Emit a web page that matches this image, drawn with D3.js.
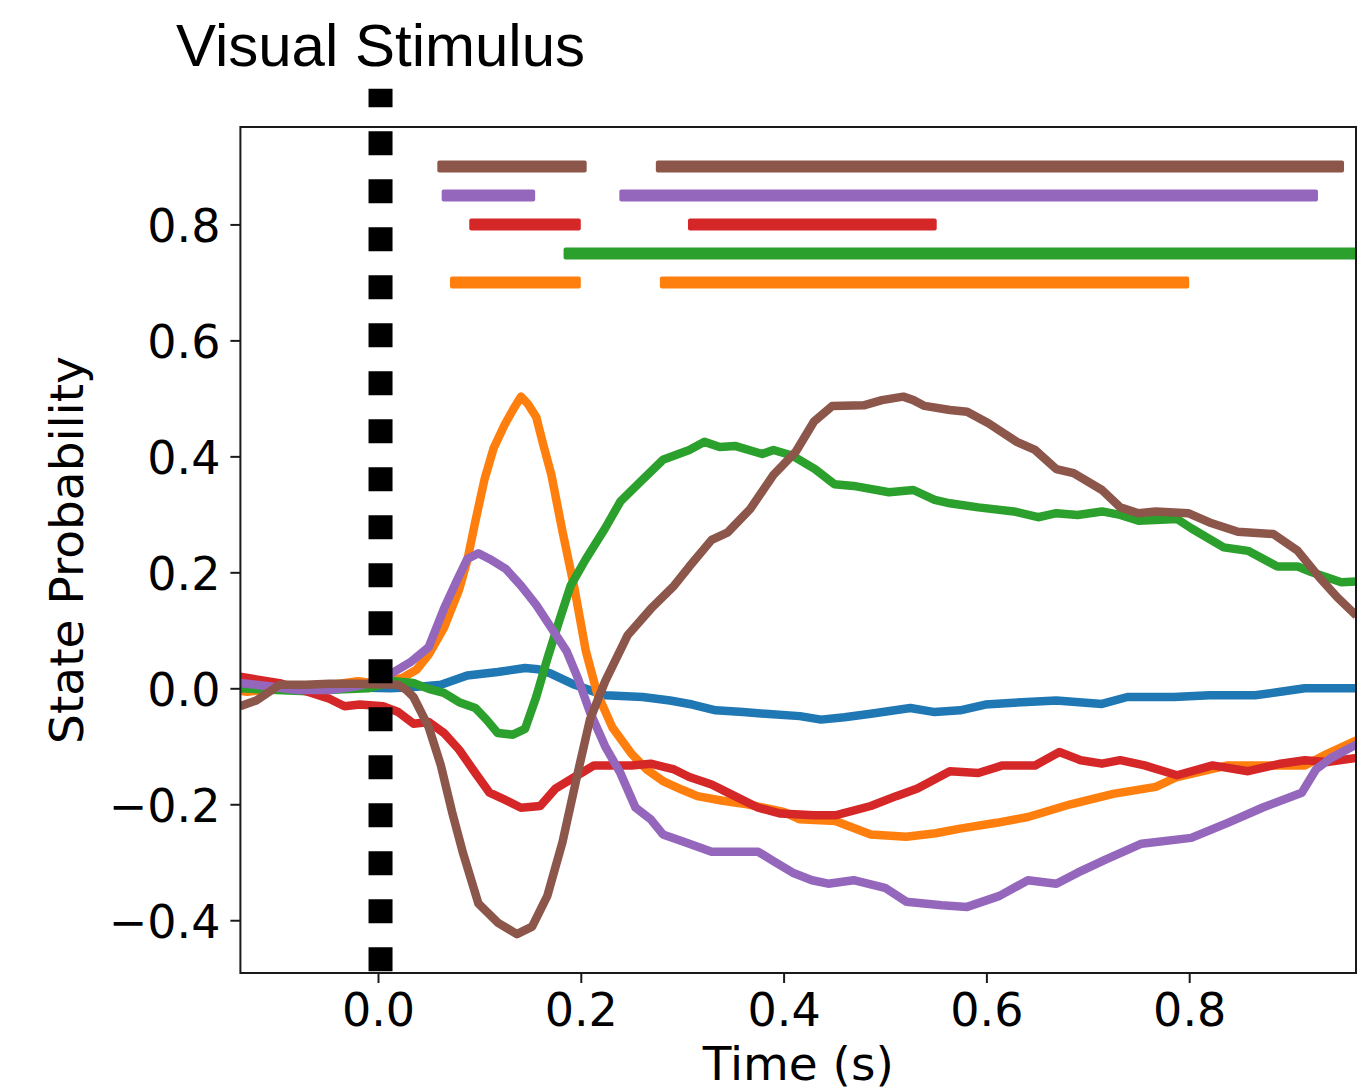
<!DOCTYPE html>
<html>
<head>
<meta charset="utf-8">
<script src="https://cdn.jsdelivr.net/npm/d3@7"></script>
<style>
  body { margin: 0; background: #fff; }
</style>
</head>
<body>
<script>
// state probability traces, [time (s), value]
var stateBlue = [[-0.136,0.002],[-0.10,0.001],[-0.07,0.003],[-0.033,0.003],[-0.01,0.001],[0.012,0.000],[0.035,0.002],[0.062,0.006],[0.088,0.022],[0.118,0.028],[0.145,0.035],[0.158,0.033],[0.171,0.025],[0.194,0.006],[0.21,-0.004],[0.224,-0.012],[0.261,-0.015],[0.288,-0.021],[0.31,-0.028],[0.333,-0.038],[0.36,-0.041],[0.382,-0.044],[0.416,-0.048],[0.437,-0.054],[0.46,-0.05],[0.486,-0.044],[0.525,-0.034],[0.549,-0.041],[0.574,-0.038],[0.599,-0.028],[0.635,-0.024],[0.669,-0.021],[0.714,-0.027],[0.739,-0.015],[0.785,-0.015],[0.82,-0.012],[0.865,-0.012],[0.89,-0.006],[0.914,0.000],[0.965,0.000]];
var stateOrange = [[-0.136,-0.004],[-0.129,-0.006],[-0.11,-0.002],[-0.08,0.002],[-0.05,0.005],[-0.02,0.012],[0.0,0.008],[0.024,0.018],[0.038,0.032],[0.05,0.058],[0.065,0.104],[0.08,0.17],[0.088,0.22],[0.096,0.288],[0.105,0.36],[0.114,0.414],[0.125,0.455],[0.133,0.48],[0.141,0.503],[0.148,0.49],[0.156,0.468],[0.163,0.42],[0.171,0.368],[0.182,0.27],[0.194,0.17],[0.205,0.064],[0.216,-0.008],[0.231,-0.067],[0.25,-0.113],[0.265,-0.14],[0.281,-0.16],[0.30,-0.175],[0.315,-0.186],[0.34,-0.194],[0.364,-0.2],[0.40,-0.213],[0.416,-0.226],[0.451,-0.229],[0.486,-0.252],[0.521,-0.256],[0.55,-0.25],[0.574,-0.242],[0.61,-0.232],[0.641,-0.222],[0.683,-0.2],[0.725,-0.182],[0.767,-0.17],[0.788,-0.153],[0.838,-0.133],[0.883,-0.133],[0.914,-0.133],[0.936,-0.113],[0.965,-0.09]];
var stateGreen = [[-0.136,0.000],[-0.10,-0.003],[-0.07,-0.005],[-0.04,-0.002],[-0.01,0.000],[0.016,0.012],[0.035,0.009],[0.05,-0.001],[0.065,-0.008],[0.08,-0.024],[0.096,-0.034],[0.107,-0.054],[0.118,-0.077],[0.133,-0.08],[0.145,-0.07],[0.156,-0.015],[0.167,0.051],[0.179,0.118],[0.19,0.177],[0.205,0.223],[0.224,0.276],[0.239,0.322],[0.258,0.355],[0.281,0.394],[0.307,0.411],[0.322,0.425],[0.337,0.416],[0.352,0.418],[0.379,0.404],[0.39,0.411],[0.409,0.401],[0.431,0.378],[0.45,0.352],[0.469,0.349],[0.504,0.338],[0.528,0.342],[0.549,0.325],[0.564,0.319],[0.592,0.312],[0.627,0.305],[0.651,0.295],[0.669,0.302],[0.69,0.299],[0.714,0.305],[0.732,0.299],[0.75,0.289],[0.788,0.292],[0.802,0.276],[0.834,0.243],[0.858,0.237],[0.887,0.21],[0.907,0.21],[0.921,0.2],[0.95,0.183],[0.965,0.184]];
var stateRed = [[-0.136,0.02],[-0.108,0.012],[-0.097,0.009],[-0.071,-0.005],[-0.048,-0.018],[-0.033,-0.031],[-0.018,-0.028],[0.005,-0.031],[0.02,-0.041],[0.035,-0.061],[0.05,-0.058],[0.065,-0.077],[0.08,-0.106],[0.096,-0.146],[0.11,-0.18],[0.126,-0.193],[0.141,-0.206],[0.16,-0.203],[0.175,-0.173],[0.194,-0.153],[0.213,-0.133],[0.231,-0.133],[0.25,-0.133],[0.269,-0.13],[0.292,-0.14],[0.307,-0.153],[0.329,-0.166],[0.345,-0.18],[0.375,-0.206],[0.397,-0.216],[0.43,-0.219],[0.451,-0.219],[0.486,-0.203],[0.511,-0.186],[0.532,-0.173],[0.564,-0.143],[0.592,-0.146],[0.616,-0.133],[0.648,-0.133],[0.672,-0.11],[0.693,-0.124],[0.714,-0.13],[0.732,-0.124],[0.756,-0.133],[0.788,-0.15],[0.823,-0.133],[0.858,-0.143],[0.89,-0.13],[0.914,-0.124],[0.936,-0.127],[0.965,-0.12]];
var statePurple = [[-0.136,0.009],[-0.11,0.004],[-0.08,-0.003],[-0.047,-0.003],[-0.02,0.004],[0.0,0.012],[0.0125,0.025],[0.032,0.045],[0.05,0.071],[0.065,0.137],[0.077,0.183],[0.088,0.223],[0.099,0.233],[0.11,0.223],[0.126,0.206],[0.141,0.177],[0.156,0.144],[0.171,0.104],[0.186,0.064],[0.197,0.018],[0.209,-0.041],[0.224,-0.1],[0.239,-0.146],[0.254,-0.206],[0.269,-0.226],[0.281,-0.252],[0.307,-0.268],[0.329,-0.282],[0.345,-0.282],[0.375,-0.282],[0.39,-0.298],[0.409,-0.318],[0.428,-0.331],[0.444,-0.337],[0.469,-0.331],[0.5,-0.344],[0.521,-0.368],[0.556,-0.374],[0.581,-0.377],[0.613,-0.358],[0.641,-0.331],[0.669,-0.337],[0.69,-0.318],[0.718,-0.295],[0.753,-0.268],[0.802,-0.258],[0.838,-0.232],[0.872,-0.206],[0.911,-0.18],[0.925,-0.14],[0.94,-0.12],[0.965,-0.097]];
var stateBrown = [[-0.136,-0.031],[-0.12,-0.021],[-0.097,0.006],[-0.071,0.006],[-0.048,0.008],[-0.021,0.008],[0.02,0.006],[0.028,-0.003],[0.035,-0.015],[0.05,-0.067],[0.062,-0.133],[0.073,-0.213],[0.084,-0.285],[0.099,-0.371],[0.118,-0.404],[0.137,-0.424],[0.152,-0.411],[0.167,-0.358],[0.182,-0.265],[0.197,-0.146],[0.209,-0.054],[0.224,0.012],[0.246,0.091],[0.269,0.137],[0.292,0.177],[0.307,0.21],[0.329,0.256],[0.345,0.269],[0.367,0.309],[0.39,0.368],[0.412,0.408],[0.43,0.46],[0.448,0.487],[0.479,0.488],[0.497,0.497],[0.518,0.503],[0.528,0.497],[0.539,0.487],[0.564,0.48],[0.581,0.477],[0.602,0.457],[0.63,0.425],[0.648,0.411],[0.669,0.378],[0.686,0.371],[0.714,0.342],[0.732,0.312],[0.75,0.302],[0.767,0.305],[0.799,0.302],[0.82,0.286],[0.848,0.27],[0.883,0.266],[0.907,0.237],[0.929,0.19],[0.946,0.157],[0.965,0.125]];

// significance intervals, one level per state
var sigBrown = [[0.0585,0.2058],[0.274,0.9527]];
var sigPurple = [[0.0628,0.155],[0.238,0.927]];
var sigRed = [[0.090,0.200],[0.3057,0.551]];
var sigGreen = [[0.183,1.0]];
var sigOrange = [[0.071,0.200],[0.278,0.800]];
var sigLevels = [0.9, 0.85, 0.8, 0.75, 0.7];

var xTicks = [0.0, 0.2, 0.4, 0.6, 0.8];
var yTicks = [-0.4, -0.2, 0.0, 0.2, 0.4, 0.6, 0.8];
var stimTime = 0.0025;
var stimSpan = [-0.488, 1.034];

var loadVis = function() {

    var width = 1358, height = 1092;
    var svg = d3.select("body").append("svg")
        .attr("width", width)
        .attr("height", height);

    var x = d3.scaleLinear().domain([-0.1357, 0.9645]).range([240.4, 1356]);
    var y = d3.scaleLinear().domain([-0.491, 0.968]).range([973, 127]);

    svg.append("clipPath").attr("id", "plotArea")
        .append("rect")
            .attr("x", x.range()[0]).attr("y", y.range()[1])
            .attr("width", x.range()[1] - x.range()[0])
            .attr("height", y.range()[0] - y.range()[1]);

    var series = [
        { data: stateBlue, color: "#1f77b4" },
        { data: stateOrange, color: "#ff7f0e" },
        { data: stateGreen, color: "#2ca02c" },
        { data: stateRed, color: "#d62728" },
        { data: statePurple, color: "#9467bd" },
        { data: stateBrown, color: "#8c564b" }
    ];

    var line = d3.line()
        .x(function(d) { return x(d[0]); })
        .y(function(d) { return y(d[1]); });

    var plot = svg.append("g").attr("clip-path", "url(#plotArea)");

    plot.selectAll("path.trace")
        .data(series).enter()
        .append("path")
            .attr("class", "trace")
            .attr("d", function(d) { return line(d.data); })
            .attr("fill", "none")
            .attr("stroke", function(d) { return d.color; })
            .attr("stroke-width", 8.5)
            .attr("stroke-linejoin", "round");

    var sigSets = [
        { segs: sigBrown, level: sigLevels[0], color: "#8c564b" },
        { segs: sigPurple, level: sigLevels[1], color: "#9467bd" },
        { segs: sigRed, level: sigLevels[2], color: "#d62728" },
        { segs: sigGreen, level: sigLevels[3], color: "#2ca02c" },
        { segs: sigOrange, level: sigLevels[4], color: "#ff7f0e" }
    ];

    sigSets.forEach(function(s) {
        plot.selectAll(null)
            .data(s.segs).enter()
            .append("rect")
                .attr("x", function(d) { return x(d[0]); })
                .attr("width", function(d) { return x(d[1]) - x(d[0]); })
                .attr("y", y(s.level) - 6)
                .attr("height", 12)
                .attr("rx", 2)
                .attr("fill", s.color);
    });

    // stimulus onset marker, runs past the axes
    svg.append("line")
        .attr("x1", x(stimTime)).attr("x2", x(stimTime))
        .attr("y1", y(stimSpan[0])).attr("y2", y(stimSpan[1]))
        .attr("stroke", "#000")
        .attr("stroke-width", 24)
        .attr("stroke-dasharray", "24 24");

    // frame
    svg.append("rect")
        .attr("x", x.range()[0]).attr("y", y.range()[1])
        .attr("width", x.range()[1] - x.range()[0])
        .attr("height", y.range()[0] - y.range()[1])
        .attr("fill", "none")
        .attr("stroke", "#1a1a1a")
        .attr("stroke-width", 2);

    var xAxis = svg.append("g")
        .attr("transform", "translate(0," + y.range()[0] + ")")
        .call(d3.axisBottom(x).tickValues(xTicks).tickSize(10).tickPadding(10)
            .tickFormat(d3.format(".1f")));

    var yAxis = svg.append("g")
        .attr("transform", "translate(" + x.range()[0] + ",0)")
        .call(d3.axisLeft(y).tickValues(yTicks).tickSize(10).tickPadding(10)
            .tickFormat(d3.format(".1f")));

    [xAxis, yAxis].forEach(function(a) {
        a.select(".domain").remove();
        a.attr("font-family", "DejaVu Sans").attr("font-size", 46);
        a.selectAll(".tick line").attr("stroke", "#1a1a1a").attr("stroke-width", 2);
        a.selectAll(".tick text").attr("fill", "#000");
    });
    yAxis.selectAll(".tick text").attr("dy", "0.38em");

    svg.append("text")
        .attr("x", (x.range()[0] + x.range()[1]) / 2)
        .attr("y", 1080)
        .attr("text-anchor", "middle")
        .attr("font-family", "DejaVu Sans")
        .attr("font-size", 47)
        .text("Time (s)");

    svg.append("text")
        .attr("transform", "translate(83," + (y.range()[0] + y.range()[1]) / 2 + ") rotate(-90)")
        .attr("text-anchor", "middle")
        .attr("font-family", "DejaVu Sans")
        .attr("font-size", 47)
        .text("State Probability");

    svg.append("text")
        .attr("x", x(stimTime))
        .attr("y", 66)
        .attr("text-anchor", "middle")
        .attr("font-family", "Liberation Sans, Arial, sans-serif")
        .attr("font-size", 60)
        .text("Visual Stimulus");
}

document.addEventListener('DOMContentLoaded', loadVis, false);
</script>
</body>
</html>
